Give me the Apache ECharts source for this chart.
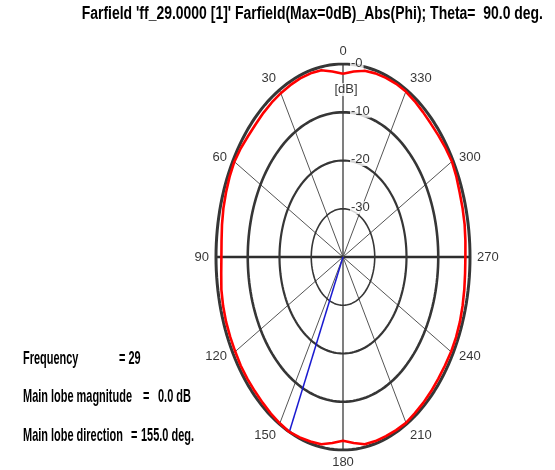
<!DOCTYPE html>
<html>
<head>
<meta charset="utf-8">
<script src="https://cdn.jsdelivr.net/npm/echarts@6/dist/echarts.min.js"></script>
<style>
  html, body { margin: 0; padding: 0; background: #ffffff; }
  #chart { width: 555px; height: 470px; }
</style>
</head>
<body>
<div id="chart"></div>
<script>
// Farfield cut, Theta = 90 deg, |E| normalised to its maximum (dB)
const phiDeg = [
  0, 5, 10, 15, 20, 25, 30, 35, 40, 45, 50, 55,
  60, 65, 70, 75, 80, 85, 90, 95, 100, 105, 110, 115,
  120, 125, 130, 135, 140, 145, 150, 155, 160, 165, 170, 175,
  180, 185, 190, 195, 200, 205, 210, 215, 220, 225, 230, 235,
  240, 245, 250, 255, 260, 265, 270, 275, 280, 285, 290, 295,
  300, 305, 310, 315, 320, 325, 330, 335, 340, 345, 350, 355
];
const gainDb = [
  -2.0, -1.4, -0.7, -0.6, -0.6, -0.7, -0.8, -0.9, -1.0, -1.1, -1.0, -0.7,
  -0.5, -0.6, -0.8, -1.0, -1.3, -1.6, -1.7, -1.5, -1.1, -0.9, -0.8, -0.8,
  -0.8, -0.7, -0.7, -0.7, -0.6, -0.4, -0.2, 0.0, -0.2, -0.4, -0.6, -1.3,
  -1.9, -1.3, -0.6, -0.5, -0.5, -0.4, -0.3, -0.5, -0.6, -0.7, -0.8, -0.8,
  -0.7, -0.7, -0.8, -1.0, -1.2, -1.4, -1.45, -1.3, -1.1, -1.0, -0.9, -0.6,
  -0.4, -0.6, -0.8, -0.9, -0.8, -0.6, -0.4, -0.4, -0.5, -0.6, -0.8, -1.4
];

// angular grid (deg) and radial grid (dB)
const angleTicks = [0, 30, 60, 90, 120, 150, 180, 210, 240, 270, 300, 330];
const ringDb = [0, -10, -20, -30];
const ringLabels = ['-0', '-10', '-20', '-30'];
const dbMin = -40;
const dbMax = 0;

// summary values
const frequency = 29;
const theta = 90.0;
const mainLobeMag = 0.0;
const mainLobeDir = 155.0;

const titleText = "Farfield 'ff_29.0000 [1]' Farfield(Max=0dB)_Abs(Phi); Theta=  " + theta.toFixed(1) + " deg.";

// plot area: an ellipse stretched vertically
const GRID = { left: 216, top: 64, width: 254, height: 386 };

// phi measured from the top, counter-clockwise; radius linear in dB
function toXY(phi, db) {
  const r = (db - dbMin) / (dbMax - dbMin);
  const a = phi * Math.PI / 180;
  return [-r * Math.sin(a), r * Math.cos(a)];
}

const series = [];

// diameters every 30 deg
angleTicks.filter(t => t < 180).forEach(t => {
  const isH = t === 90, isV = t === 0;
  series.push({
    type: 'line', silent: true, showSymbol: false, z: 1,
    data: [toXY(t, dbMax), toXY(t + 180, dbMax)],
    lineStyle: {
      color: isH ? '#2e2e2e' : (isV ? '#3a3a3a' : '#555555'),
      width: isH ? 2.6 : (isV ? 1.3 : 1)
    }
  });
});

// dB rings
const ringWidths = [3, 2.6, 2.2, 1.6];
ringDb.forEach((db, i) => {
  const pts = [];
  for (let p = 0; p <= 360; p += 2) pts.push(toXY(p, db));
  series.push({
    type: 'line', silent: true, showSymbol: false, z: 2,
    data: pts,
    lineStyle: { color: '#363636', width: ringWidths[i] }
  });
});

// main lobe direction
series.push({
  type: 'line', silent: true, showSymbol: false, z: 3,
  data: [toXY(mainLobeDir, dbMin), toXY(mainLobeDir, mainLobeMag)],
  lineStyle: { color: '#1a1ad0', width: 1.5 }
});

// pattern (closed)
const patPts = phiDeg.map((p, i) => toXY(p, gainDb[i]));
patPts.push(patPts[0]);
series.push({
  type: 'line', silent: true, showSymbol: false, z: 4,
  data: patPts,
  lineStyle: { color: '#ff0000', width: 2.6 }
});

// angle labels just outside the 0 dB ring
const gapX = 7, gapY = 6;
series.push({
  type: 'scatter', silent: true, symbolSize: 0, z: 6,
  data: angleTicks.map(t => {
    const [ex, ey0] = toXY(t, dbMax);
    const ey = -ey0; // screen y grows downward
    const align = Math.abs(ex) < 0.1 ? 'center' : (ex < 0 ? 'right' : 'left');
    const vAlign = ey < -0.7 ? 'bottom' : (ey > 0.7 ? 'top' : 'middle');
    return {
      value: [ex, ey0],
      label: {
        show: true, position: 'inside', formatter: String(t),
        align: align, verticalAlign: vAlign,
        offset: [ex * gapX, ey * gapY]
      }
    };
  }),
  label: { color: '#000000', fontSize: 13, fontFamily: 'Liberation Sans, Arial, sans-serif' }
});

// dB ring labels along the 0 deg axis
series.push({
  type: 'scatter', silent: true, symbolSize: 0, z: 7,
  data: ringDb.map((db, i) => ({
    value: toXY(0, db),
    label: { show: true, position: 'inside', formatter: ringLabels[i],
      align: 'left', verticalAlign: 'middle', offset: [7, -1] }
  })).concat([{
    value: toXY(0, -5.3),
    label: { show: true, position: 'inside', formatter: '[dB]',
      align: 'center', verticalAlign: 'middle', offset: [3, 0] }
  }]),
  label: {
    color: '#000000', fontSize: 13, fontFamily: 'Liberation Sans, Arial, sans-serif',
    backgroundColor: '#ffffff', padding: [0, 1, 0, 1]
  }
});

// condensed text helpers
const mctx = document.createElement('canvas').getContext('2d');
function textW(t, size, family, weight) {
  mctx.font = (weight || 'normal') + ' ' + size + 'px ' + family;
  return mctx.measureText(t).width;
}
const FAM = '"Liberation Sans", Arial, sans-serif';
const WEIGHT = 'bold';

// title: squeezed so that its tail spans 235..543
const titleSize = 18;
const tail = 'Farfield(Max=0dB)_Abs(Phi); Theta=  ' + theta.toFixed(1) + ' deg.';
const titleScale = 308 / textW(tail, titleSize, FAM, WEIGHT);
const titleX = 543 - textW(titleText, titleSize, FAM, WEIGHT) * titleScale;

const infoSize = 19;
const infoScale = 109 / textW('Main lobe magnitude', infoSize, FAM, WEIGHT);

function txt(text, x, y, size, scale) {
  return {
    type: 'text', x: x, y: y, scaleX: scale, silent: true, z: 10,
    style: { text: text, fill: '#000000', fontSize: size, fontFamily: FAM,
      fontWeight: WEIGHT, align: 'left', verticalAlign: 'middle' }
  };
}

const graphic = [
  txt(titleText, titleX, 14, titleSize, titleScale),
  txt('Frequency', 23, 359, infoSize, infoScale),
  txt('= ' + frequency, 119, 359, infoSize, infoScale),
  txt('Main lobe magnitude', 23, 397, infoSize, infoScale),
  txt('=', 143, 397, infoSize, infoScale),
  txt(mainLobeMag.toFixed(1) + ' dB', 158, 397, infoSize, infoScale),
  txt('Main lobe direction', 23, 436, infoSize, infoScale),
  txt('=', 131, 436, infoSize, infoScale),
  txt(mainLobeDir.toFixed(1) + ' deg.', 141, 436, infoSize, infoScale)
];

const chart = echarts.init(document.getElementById('chart'), null, { renderer: 'canvas' });
chart.setOption({
  animation: false,
  backgroundColor: '#ffffff',
  grid: GRID,
  xAxis: { type: 'value', min: -1, max: 1, show: false },
  yAxis: { type: 'value', min: -1, max: 1, show: false },
  series: series,
  graphic: graphic
});
</script>
</body>
</html>
